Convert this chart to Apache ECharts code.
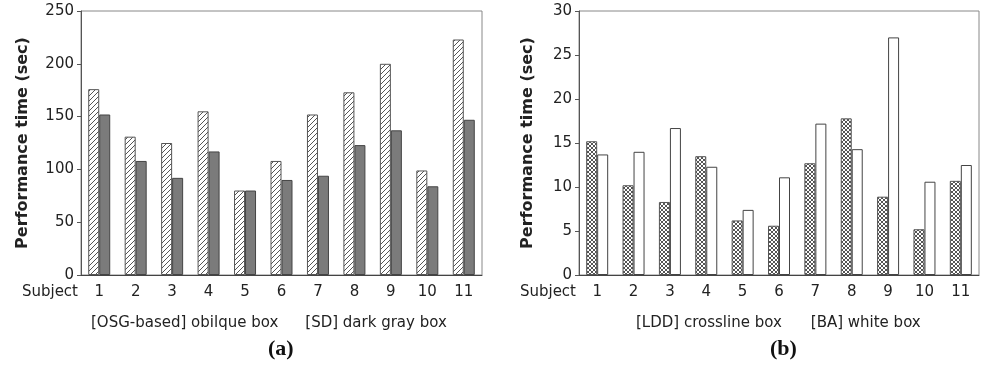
<!DOCTYPE html>
<html>
<head>
<meta charset="utf-8">
<script src="https://cdn.jsdelivr.net/npm/echarts@6/dist/echarts.min.js"></script>
<style>
  html, body { margin: 0; padding: 0; background: #fff; }
  #chart { width: 981px; height: 370px; }
</style>
</head>
<body>
<div id="chart"></div>
<script>
// data
const subjects = ["1", "2", "3", "4", "5", "6", "7", "8", "9", "10", "11"];
const osgTimes = [176, 131, 125, 155, 80, 108, 152, 173, 200, 99, 223];
const sdTimes = [152, 108, 92, 117, 80, 90, 94, 123, 137, 84, 147];
const lddTimes = [15.2, 10.2, 8.3, 13.5, 6.2, 5.6, 12.7, 17.8, 8.9, 5.2, 10.7];
const baTimes = [13.7, 14.0, 16.7, 12.3, 7.4, 11.1, 17.2, 14.3, 27.0, 10.6, 12.5];
const leftTicks = [0, 250, 50];
const rightTicks = [0, 30, 5];

const font = "DejaVu Sans";

function hatchPattern() {
  const c = document.createElement("canvas");
  c.width = 5;
  c.height = 5;
  const ctx = c.getContext("2d");
  ctx.fillStyle = "#fff";
  ctx.fillRect(0, 0, 5, 5);
  ctx.strokeStyle = "#555";
  ctx.lineWidth = 1;
  ctx.beginPath();
  ctx.moveTo(-1, 6); ctx.lineTo(6, -1);
  ctx.moveTo(-1, 1); ctx.lineTo(1, -1);
  ctx.moveTo(4, 6); ctx.lineTo(6, 4);
  ctx.stroke();
  return c;
}

function crossPattern() {
  const c = document.createElement("canvas");
  c.width = 4;
  c.height = 4;
  const ctx = c.getContext("2d");
  ctx.fillStyle = "#fff";
  ctx.fillRect(0, 0, 4, 4);
  ctx.strokeStyle = "#555";
  ctx.lineWidth = 1;
  ctx.beginPath();
  ctx.moveTo(0, 0); ctx.lineTo(4, 4);
  ctx.moveTo(4, 0); ctx.lineTo(0, 4);
  ctx.stroke();
  return c;
}

function xAxis(gridIndex) {
  return {
    type: "category",
    gridIndex,
    data: subjects,
    name: "Subject",
    nameLocation: "start",
    nameGap: 3,
    nameTextStyle: {
      fontFamily: font, fontSize: 15, color: "#222",
      align: "right", verticalAlign: "top", padding: [10, 0, 0, 0]
    },
    axisLine: { lineStyle: { color: "#444" } },
    axisTick: { alignWithLabel: true, length: 3, lineStyle: { color: "#444" } },
    axisLabel: { fontFamily: font, fontSize: 15, color: "#222", margin: 10 }
  };
}

function yAxis(gridIndex, ticks, gap) {
  return {
    type: "value",
    gridIndex,
    min: ticks[0],
    max: ticks[1],
    interval: ticks[2],
    name: "Performance time (sec)",
    nameLocation: "middle",
    nameGap: gap,
    nameTextStyle: { fontFamily: font, fontSize: 16, fontWeight: "bold", color: "#222" },
    axisLine: { show: true, lineStyle: { color: "#555" } },
    axisTick: { show: true, length: 4, lineStyle: { color: "#555" } },
    axisLabel: { fontFamily: font, fontSize: 15, color: "#222", margin: 7 },
    splitLine: { show: false }
  };
}

const chart = echarts.init(document.getElementById("chart"), null, { renderer: "canvas" });

chart.setOption({
  animation: false,
  backgroundColor: "#fff",
  title: [
    { text: "(a)", left: 263, top: 333, textStyle: { fontFamily: "Liberation Serif", fontSize: 22, fontWeight: "bold", color: "#111" } },
    { text: "(b)", left: 765, top: 333, textStyle: { fontFamily: "Liberation Serif", fontSize: 22, fontWeight: "bold", color: "#111" } }
  ],
  legend: [
    {
      data: ["[OSG-based] obilque box", "[SD] dark gray box"],
      left: 81, top: 311, icon: "none", itemWidth: 0, itemGap: 22,
      selectedMode: false,
      textStyle: { fontFamily: font, fontSize: 15, color: "#222" }
    },
    {
      data: ["[LDD] crossline box", "[BA] white box"],
      left: 626, top: 311, icon: "none", itemWidth: 0, itemGap: 24,
      selectedMode: false,
      textStyle: { fontFamily: font, fontSize: 15, color: "#222" }
    }
  ],
  grid: [
    { left: 81, top: 11, width: 401, height: 264, show: true, borderColor: "#888", borderWidth: 1 },
    { left: 579, top: 11, width: 400, height: 264, show: true, borderColor: "#888", borderWidth: 1 }
  ],
  xAxis: [xAxis(0), xAxis(1)],
  yAxis: [yAxis(0, leftTicks, 50), yAxis(1, rightTicks, 43)],
  series: [
    {
      name: "[OSG-based] obilque box", type: "bar", xAxisIndex: 0, yAxisIndex: 0,
      data: osgTimes, barWidth: 11, barGap: "0%",
      itemStyle: { color: { image: hatchPattern(), repeat: "repeat" }, borderColor: "#555", borderWidth: 1 }
    },
    {
      name: "[SD] dark gray box", type: "bar", xAxisIndex: 0, yAxisIndex: 0,
      data: sdTimes, barWidth: 11, barGap: "0%",
      itemStyle: { color: "#7b7b7b", borderColor: "#444", borderWidth: 1 }
    },
    {
      name: "[LDD] crossline box", type: "bar", xAxisIndex: 1, yAxisIndex: 1,
      data: lddTimes, barWidth: 11, barGap: "0%",
      itemStyle: { color: { image: crossPattern(), repeat: "repeat" }, borderColor: "#555", borderWidth: 1 }
    },
    {
      name: "[BA] white box", type: "bar", xAxisIndex: 1, yAxisIndex: 1,
      data: baTimes, barWidth: 11, barGap: "0%",
      itemStyle: { color: "#fff", borderColor: "#444", borderWidth: 1 }
    }
  ]
});
</script>
</body>
</html>
